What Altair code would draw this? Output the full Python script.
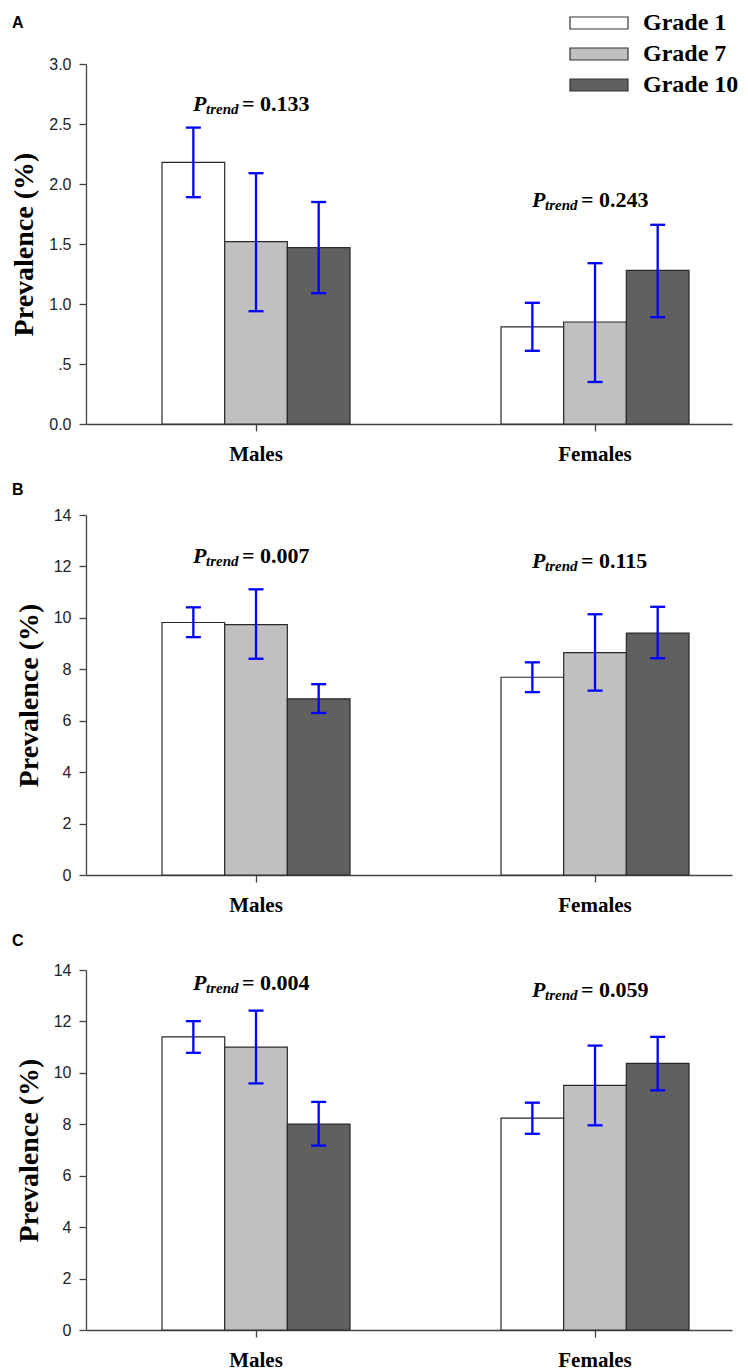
import altair as alt
import pandas as pd

SEXES = ["Males", "Females"]
GRADES = ["Grade 1", "Grade 7", "Grade 10"]
FILLS = ["#ffffff", "#c0c0c0", "#606060"]

# Panel A
A_VALUES = [2.18, 1.52, 1.47, 0.81, 0.85, 1.28]
A_LOWER = [1.89, 0.94, 1.09, 0.61, 0.35, 0.89]
A_UPPER = [2.47, 2.09, 1.85, 1.01, 1.34, 1.66]
A_PTREND = ["0.133", "0.243"]
A_PTREND_Y = [2.61, 1.81]
A_TICKS = [0, 0.5, 1.0, 1.5, 2.0, 2.5, 3.0]

# Panel B
B_VALUES = [9.82, 9.74, 6.85, 7.69, 8.65, 9.41]
B_LOWER = [9.25, 8.41, 6.30, 7.11, 7.17, 8.43]
B_UPPER = [10.41, 11.11, 7.42, 8.27, 10.14, 10.43]
B_PTREND = ["0.007", "0.115"]
B_PTREND_Y = [12.13, 11.94]
B_TICKS = [0, 2, 4, 6, 8, 10, 12, 14]

# Panel C
C_VALUES = [11.40, 11.00, 8.01, 8.24, 9.51, 10.37]
C_LOWER = [10.78, 9.59, 7.17, 7.63, 7.96, 9.32]
C_UPPER = [12.01, 12.42, 8.87, 8.84, 11.06, 11.40]
C_PTREND = ["0.004", "0.059"]
C_PTREND_Y = [13.22, 12.94]
C_TICKS = [0, 2, 4, 6, 8, 10, 12, 14]

SERIF = "Liberation Serif"
SANS = "Liberation Sans"
AXIS_COLOR = "#444444"


def panel(letter, letter_y, values, lower, upper, ptexts, ptext_y, ymax, ticks,
          label_expr, show_legend):
    df = pd.DataFrame({
        "sex": [s for s in SEXES for _ in GRADES],
        "grade": GRADES * 2,
        "value": values,
        "lower": lower,
        "upper": upper,
    })
    ann = pd.DataFrame({
        "sex": SEXES,
        "psym": ["P", "P"],
        "sub": ["trend", "trend"],
        "rest": ["= " + p for p in ptexts],
        "y": ptext_y,
    })

    xscale = alt.Scale(domain=SEXES, paddingInner=0.3, paddingOuter=0.1028, align=0.737)
    xo_scale = alt.Scale(domain=GRADES, range=[24.65, 212.65], paddingInner=0, paddingOuter=0)
    yscale = alt.Scale(domain=[0, ymax], nice=False, zero=True)

    x_enc = alt.X("sex:N", sort=SEXES, scale=xscale, title=None,
                  axis=alt.Axis(labelAngle=0, labelFont=SERIF, labelFontWeight="bold",
                                labelFontSize=21, labelColor="#000000", labelPadding=12,
                                tickSize=7, tickColor=AXIS_COLOR, domainColor=AXIS_COLOR,
                                domainWidth=1.3, tickWidth=1.3))
    xo_enc = alt.XOffset("grade:N", sort=GRADES, scale=xo_scale)
    y_axis = alt.Axis(values=ticks, labelExpr=label_expr, labelFont=SANS, labelFontSize=16,
                      labelColor="#222222", labelPadding=8, tickSize=7, tickColor=AXIS_COLOR,
                      domainColor=AXIS_COLOR, domainWidth=1.3, tickWidth=1.3, grid=False,
                      titleFont=SERIF, titleFontSize=28, titleFontWeight="bold",
                      titleColor="#000000", titlePadding=10)
    y_enc = alt.Y("value:Q", scale=yscale, axis=y_axis, title="Prevalence (%)")

    if show_legend:
        legend = alt.Legend(orient="none", legendX=501, legendY=-53, direction="vertical",
                            title=None, padding=0,
                            symbolType="M-4.833,-1H4.833V1H-4.833Z", symbolSize=144,
                            symbolStrokeColor="#333333", symbolStrokeWidth=1.2,
                            symbolOpacity=1,
                            labelFont=SERIF, labelFontWeight="bold", labelFontSize=24,
                            labelColor="#000000", labelOffset=32, rowPadding=7)
    else:
        legend = None

    fill_enc = alt.Fill("grade:N", sort=GRADES, scale=alt.Scale(domain=GRADES, range=FILLS),
                        legend=legend)

    bars = alt.Chart(df).mark_bar(stroke="#2a2a2a", strokeWidth=1.2, opacity=1).encode(
        x=x_enc, xOffset=xo_enc, y=y_enc, fill=fill_enc
    )
    err = alt.Chart(df).mark_rule(color="#0000ff", strokeWidth=2.3).encode(
        x=alt.X("sex:N", sort=SEXES, scale=xscale), xOffset=xo_enc,
        y=alt.Y("lower:Q", scale=yscale), y2="upper:Q"
    )
    cap_hi = alt.Chart(df).mark_tick(color="#0000ff", thickness=2.3, size=15, opacity=1).encode(
        x=alt.X("sex:N", sort=SEXES, scale=xscale), xOffset=xo_enc,
        y=alt.Y("upper:Q", scale=yscale)
    )
    cap_lo = alt.Chart(df).mark_tick(color="#0000ff", thickness=2.3, size=15, opacity=1).encode(
        x=alt.X("sex:N", sort=SEXES, scale=xscale), xOffset=xo_enc,
        y=alt.Y("lower:Q", scale=yscale)
    )
    tbase = alt.Chart(ann).encode(
        x=alt.X("sex:N", sort=SEXES, scale=xscale), y=alt.Y("y:Q", scale=yscale)
    )
    t_p = tbase.mark_text(font=SERIF, fontSize=22, fontWeight="bold", fontStyle="italic",
                          align="left", baseline="alphabetic", dx=-63, color="#000000"
                          ).encode(text="psym:N")
    t_sub = tbase.mark_text(font=SERIF, fontSize=15, fontWeight="bold", fontStyle="italic",
                            align="left", baseline="alphabetic", dx=-50, dy=3, color="#000000"
                            ).encode(text="sub:N")
    t_rest = tbase.mark_text(font=SERIF, fontSize=22, fontWeight="bold",
                             align="left", baseline="alphabetic", dx=-14, color="#000000"
                             ).encode(text="rest:N")
    t_letter = alt.Chart(pd.DataFrame({"letter": [letter]})).mark_text(
        font=SANS, fontSize=16, fontWeight="bold", align="left", baseline="middle",
        color="#000000"
    ).encode(x=alt.value(-74), y=alt.value(letter_y), text="letter:N")

    return alt.layer(bars, err, cap_hi, cap_lo, t_p, t_sub, t_rest, t_letter).properties(
        width=646, height=360
    )


A = panel("A", -41, A_VALUES, A_LOWER, A_UPPER, A_PTREND, A_PTREND_Y, 3.0, A_TICKS,
          "datum.value == 0 ? '0.0' : (datum.value < 1 ? '.5' : format(datum.value, '.1f'))",
          True)
B = panel("B", -25, B_VALUES, B_LOWER, B_UPPER, B_PTREND, B_PTREND_Y, 14, B_TICKS,
          "format(datum.value, 'd')", False)
C = panel("C", -29, C_VALUES, C_LOWER, C_UPPER, C_PTREND, C_PTREND_Y, 14, C_TICKS,
          "format(datum.value, 'd')", False)

chart = alt.vconcat(A, B, C, spacing=18).resolve_scale(
    x="independent", y="independent", fill="independent"
).resolve_legend(fill="independent").properties(
    padding={"top": 3, "left": 2, "right": 0, "bottom": 0}, background="#ffffff"
).configure_view(stroke=None)

chart.save("out.html", embed_options={"renderer": "svg", "actions": False})
